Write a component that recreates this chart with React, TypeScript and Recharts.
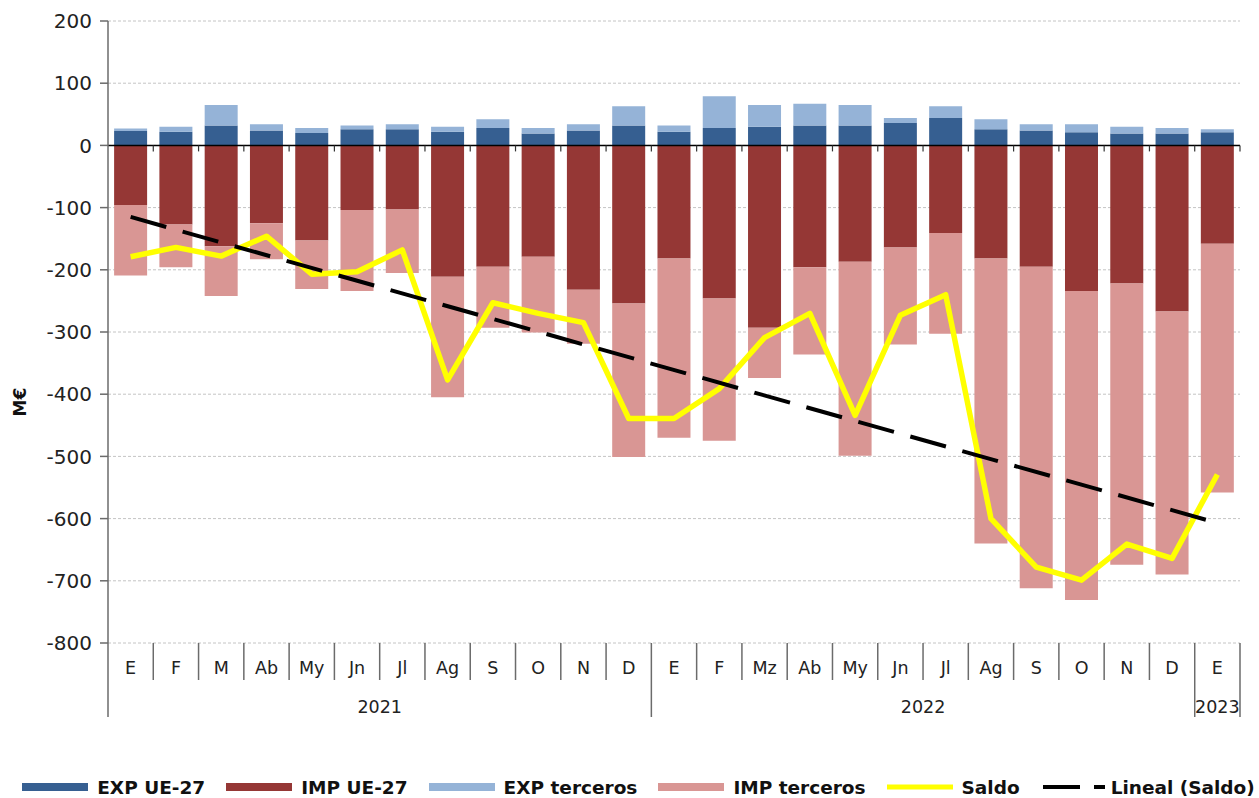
import React from 'react';
import { ComposedChart, Bar, Line, XAxis, YAxis, CartesianGrid, ReferenceLine, Legend } from 'recharts';

const months = ['E', 'F', 'M', 'Ab', 'My', 'Jn', 'Jl', 'Ag', 'S', 'O', 'N', 'D', 'E', 'F', 'Mz', 'Ab', 'My', 'Jn', 'Jl', 'Ag', 'S', 'O', 'N', 'D', 'E'];
const years = ['2021', '2021', '2021', '2021', '2021', '2021', '2021', '2021', '2021', '2021', '2021', '2021', '2022', '2022', '2022', '2022', '2022', '2022', '2022', '2022', '2022', '2022', '2022', '2022', '2023'];
const expUE = [23, 22, 32, 24, 20, 26, 26, 22, 28, 19, 24, 32, 22, 28, 30, 32, 32, 36, 44, 26, 24, 21, 19, 19, 21];
const expTerceros = [4, 8, 33, 10, 8, 6, 8, 8, 14, 9, 10, 31, 10, 51, 35, 35, 33, 8, 19, 16, 10, 13, 11, 9, 5];
const impUE = [-96, -127, -162, -125, -153, -104, -103, -211, -195, -179, -232, -254, -182, -246, -293, -196, -187, -164, -141, -182, -195, -234, -222, -267, -158];
const impTerceros = [-113, -69, -80, -58, -78, -130, -102, -194, -98, -122, -87, -247, -288, -229, -81, -140, -312, -156, -162, -458, -517, -497, -452, -423, -400];
const saldo = [-179, -164, -178, -146, -207, -203, -168, -377, -253, -270, -285, -439, -439, -391, -309, -270, -434, -273, -240, -600, -678, -699, -641, -664, -529];
const linealStart = -115;
const linealEnd = -607;
const yTicks = [200, 100, 0, -100, -200, -300, -400, -500, -600, -700, -800];

const data = months.map((m, i) => ({
  key: `${years[i]}-${i}`,
  m,
  year: years[i],
  expUE: expUE[i],
  impUE: impUE[i],
  expT: expTerceros[i],
  impT: impTerceros[i],
  saldo: saldo[i],
  lineal: i === 0 ? linealStart : i === months.length - 1 ? linealEnd : null,
}));

const FONT = '"DejaVu Sans", Verdana, sans-serif';
const W = 1259;
const H = 798;
const PLOT_LEFT = 108;
const PLOT_RIGHT = 1240;
const PLOT_TOP = 21;
const PLOT_BOTTOM = 643;
const Y_MAX = 200;
const Y_MIN = -800;
const ZERO_Y = PLOT_TOP + ((Y_MAX - 0) / (Y_MAX - Y_MIN)) * (PLOT_BOTTOM - PLOT_TOP);
const N = months.length;
const BAND = (PLOT_RIGHT - PLOT_LEFT) / N;
const AXIS_COLOR = '#6b6b6b';
const LEGEND_H = 22;

const COLORS = {
  expUE: '#365F91',
  impUE: '#953735',
  expT: '#95B3D7',
  impT: '#D99694',
  saldo: '#FFFF00',
};

const MonthTick = (props: any) => {
  const { x, payload } = props;
  const i: number = payload && payload.index != null ? payload.index : props.index;
  const xl = x - BAND / 2;
  const xr = x + BAND / 2;
  const isYearEnd = i === N - 1 || years[i + 1] !== years[i];
  const isYearStart = i === 0 || years[i - 1] !== years[i];
  let yearCount = 0;
  if (isYearStart) {
    for (let k = i; k < N && years[k] === years[i]; k++) yearCount++;
  }
  return (
    <g>
      {i === 0 && <line x1={xl} x2={xl} y1={PLOT_BOTTOM} y2={717} stroke={AXIS_COLOR} strokeWidth={1.5} />}
      <line x1={xr} x2={xr} y1={PLOT_BOTTOM} y2={isYearEnd ? 717 : 680} stroke={AXIS_COLOR} strokeWidth={1.5} />
      <line x1={xr} x2={xr} y1={ZERO_Y} y2={ZERO_Y + 6} stroke="#333" strokeWidth={1.2} />
      <text x={x} y={668} textAnchor="middle" dominantBaseline="central" fontFamily={FONT} fontSize={17.5} fill="#222">
        {payload.value}
      </text>
      {isYearStart && (
        <text x={xl + (yearCount * BAND) / 2} y={707} textAnchor="middle" dominantBaseline="central" fontFamily={FONT} fontSize={17.5} fill="#222">
          {years[i]}
        </text>
      )}
    </g>
  );
};

const legendItems = [
  { label: 'EXP UE-27', type: 'rect', color: COLORS.expUE },
  { label: 'IMP UE-27', type: 'rect', color: COLORS.impUE },
  { label: 'EXP terceros', type: 'rect', color: COLORS.expT },
  { label: 'IMP terceros', type: 'rect', color: COLORS.impT },
  { label: 'Saldo', type: 'line', color: COLORS.saldo },
  { label: 'Lineal (Saldo)', type: 'dash', color: '#000' },
];

const LegendContent = () => (
  <div
    style={{
      height: LEGEND_H,
      display: 'flex',
      alignItems: 'center',
      justifyContent: 'center',
      paddingLeft: 37,
      boxSizing: 'border-box',
      fontFamily: FONT,
      fontWeight: 'bold',
      fontSize: 18.5,
      color: '#111',
      whiteSpace: 'nowrap',
    }}
  >
    {legendItems.map((it, idx) => (
      <div key={it.label} style={{ display: 'flex', alignItems: 'center', marginLeft: idx === 0 ? 0 : 21 }}>
        <svg width={66} height={12} style={{ marginRight: it.type === 'dash' ? 4 : 9 }}>
          {it.type === 'rect' && <rect x={0} y={2} width={66} height={8} fill={it.color} />}
          {it.type === 'line' && <rect x={0} y={3.5} width={66} height={5} fill={it.color} />}
          {it.type === 'dash' && (
            <g>
              <rect x={2} y={4} width={37} height={4} fill="#000" />
              <rect x={53} y={4} width={11} height={4} fill="#000" />
            </g>
          )}
        </svg>
        <span>{it.label}</span>
      </div>
    ))}
  </div>
);

const renderYLabel = () => (
  <text
    x={20}
    y={402}
    transform="rotate(-90 20 402)"
    textAnchor="middle"
    dominantBaseline="central"
    fontFamily={FONT}
    fontWeight="bold"
    fontSize={17}
    fill="#111"
  >
    M€
  </text>
);

export default function App() {
  return (
    <div style={{ position: 'absolute', left: 0, top: 0, width: W, height: H, background: '#fff' }}>
      <ComposedChart
        width={W}
        height={H}
        data={data}
        stackOffset="sign"
        barCategoryGap="13.5%"
        margin={{ top: PLOT_TOP, right: W - PLOT_RIGHT, bottom: 0, left: 0 }}
      >
        <CartesianGrid vertical={false} stroke="#c4c4c4" strokeDasharray="3 2" />
        <XAxis
          dataKey="m"
          interval={0}
          axisLine={false}
          tickLine={false}
          height={H - PLOT_BOTTOM - LEGEND_H}
          tick={MonthTick}
        />
        <YAxis
          width={PLOT_LEFT}
          domain={[Y_MIN, Y_MAX]}
          ticks={yTicks}
          interval={0}
          allowDataOverflow
          tickSize={8}
          tickMargin={8}
          axisLine={{ stroke: AXIS_COLOR, strokeWidth: 1.5 }}
          tickLine={{ stroke: AXIS_COLOR, strokeWidth: 1.5 }}
          tick={{ fontFamily: FONT, fontSize: 20, fill: '#222' }}
          label={renderYLabel}
        />
        <Bar dataKey="expUE" name="EXP UE-27" stackId="s" fill={COLORS.expUE} isAnimationActive={false} />
        <Bar dataKey="impUE" name="IMP UE-27" stackId="s" fill={COLORS.impUE} isAnimationActive={false} />
        <Bar dataKey="expT" name="EXP terceros" stackId="s" fill={COLORS.expT} isAnimationActive={false} />
        <Bar dataKey="impT" name="IMP terceros" stackId="s" fill={COLORS.impT} isAnimationActive={false} />
        <ReferenceLine y={0} stroke="#000" strokeWidth={1.5} />
        <Line
          dataKey="saldo"
          name="Saldo"
          type="linear"
          stroke={COLORS.saldo}
          strokeWidth={5.5}
          strokeLinejoin="round"
          dot={false}
          activeDot={false}
          isAnimationActive={false}
        />
        <Line
          dataKey="lineal"
          name="Lineal (Saldo)"
          type="linear"
          connectNulls
          stroke="#000"
          strokeWidth={4}
          strokeDasharray="37 17"
          dot={false}
          activeDot={false}
          isAnimationActive={false}
        />
        <Legend verticalAlign="bottom" height={LEGEND_H} content={LegendContent} />
      </ComposedChart>
    </div>
  );
}
